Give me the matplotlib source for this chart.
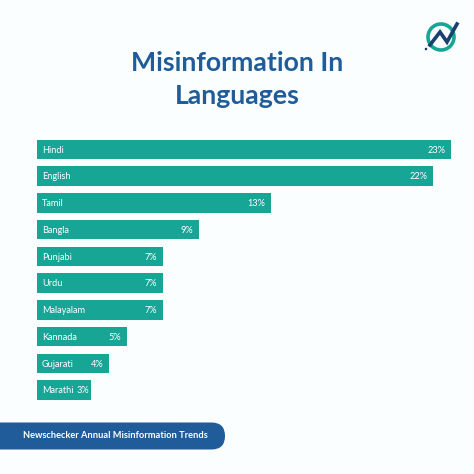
import matplotlib
matplotlib.use("Agg")
import matplotlib.pyplot as plt
from matplotlib.patches import FancyBboxPatch, Circle

languages = ["Hindi", "English", "Tamil", "Bangla", "Punjabi", "Urdu", "Malayalam", "Kannada", "Gujarati", "Marathi"]
shares = [23, 22, 13, 9, 7, 7, 7, 5, 4, 3]
title_text = "Misinformation In\nLanguages"
banner_text = "Newschecker Annual Misinformation Trends"

BG = "#FBFEFE"
TEAL = "#17A596"
BLUE = "#1F5C99"
NAVY = "#1B3F6E"
S = 474.0

fig = plt.figure(figsize=(4.74, 4.74), dpi=100, facecolor=BG)

ov = fig.add_axes([0, 0, 1, 1])
ov.set_xlim(0, S); ov.set_ylim(S, 0); ov.axis("off")

ov.text(237, 79.5, title_text, ha="center", va="center", color=BLUE, fontsize=19.2,
        family="Lato", weight="bold", linespacing=1.48)

ov.add_patch(FancyBboxPatch((-40, 422.5), 265, 27, boxstyle="round,pad=0,rounding_size=13.5",
                            fc=BLUE, ec="none", mutation_aspect=1))
ov.text(23, 436, banner_text, ha="left", va="center", color="white", fontsize=6.7,
        family="Lato", weight="bold")

ov.add_patch(Circle((441, 37), 13, fc="none", ec=TEAL, lw=2.6))
ov.plot([430, 440, 447, 457], [45, 32, 42, 24], color=NAVY, lw=2.6, solid_joinstyle="miter")
ov.add_patch(Circle((426, 49), 1.3, fc=NAVY, ec="none"))

ax = fig.add_axes([37/S, 1 - 403.5/S, 414/S, (403.5 - 136)/S])
ax.patch.set_alpha(0)
y = list(range(len(languages)))
ax.barh(y, shares, height=0.73, color=TEAL, edgecolor="none")
ax.set_xlim(0, 23)
ax.set_ylim(len(languages) - 0.5, -0.5)
ax.axis("off")
for i, (lang, v) in enumerate(zip(languages, shares)):
    ax.annotate(lang, (0, i), xytext=(3.6, -0.6), textcoords="offset points", ha="left", va="center",
                color="white", fontsize=6.6, family="Lato")
    pad = -1.5 if v == 3 else -4.3
    ax.annotate(f"{v}%", (v, i), xytext=(pad, -0.6), textcoords="offset points", ha="right", va="center",
                color="white", fontsize=6.6, family="Lato")

fig.savefig("out.png", dpi=100, facecolor=BG)
